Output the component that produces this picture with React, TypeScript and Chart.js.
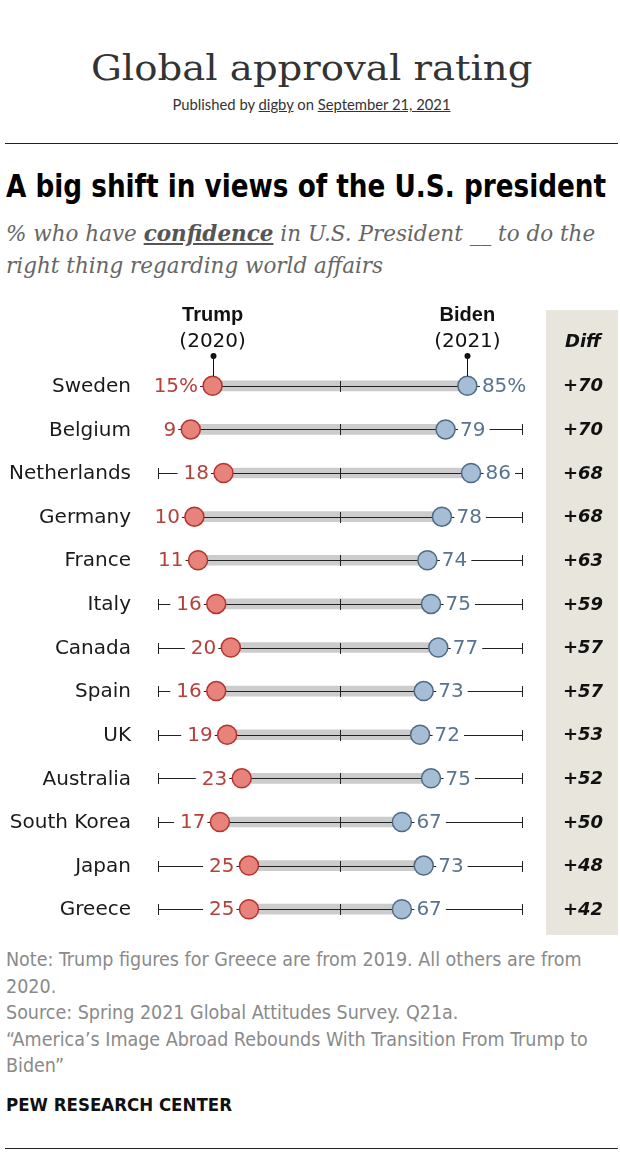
import React, { useEffect, useLayoutEffect, useRef, useState } from "react";
import { Chart, registerables } from "chart.js";

Chart.register(...registerables);

// ---- Data ----
const countries = [
  "Sweden", "Belgium", "Netherlands", "Germany", "France", "Italy", "Canada",
  "Spain", "UK", "Australia", "South Korea", "Japan", "Greece",
];
const trump2020 = [15, 9, 18, 10, 11, 16, 20, 16, 19, 23, 17, 25, 25];
const biden2021 = [85, 79, 86, 78, 74, 75, 77, 73, 72, 75, 67, 73, 67];
const axisTicks = [0, 50, 100];
const seriesNames = ["Trump", "Biden"];
const seriesYears = ["(2020)", "(2021)"];
const diffHeader = "Diff";

// ---- Styles ----
const RED_FILL = "#e8837c";
const RED_BORDER = "#b3342d";
const RED_TEXT = "#b5413a";
const BLUE_FILL = "#a6bed5";
const BLUE_BORDER = "#4e6a86";
const BLUE_TEXT = "#5a7490";
const GREY_BAR = "#cccccc";
const DIFF_BG = "#e8e6dc";
const DOT_R = 9.5;
const LABEL_FONT = '20px "DejaVu Sans"';

const overlayPlugin = {
  id: "overlay",
  afterDatasetDraw(chart: any, args: any) {
    if (args.index !== 2) return; // after grey bar, before dots
    const ctx = chart.ctx;
    const xs = chart.scales.x;
    const ys = chart.scales.y;
    ctx.save();
    ctx.strokeStyle = "#222";
    ctx.lineWidth = 1;
    countries.forEach((_, i) => {
      const y = Math.round(ys.getPixelForValue(i)) + 0.5;
      const x0 = xs.getPixelForValue(axisTicks[0]);
      const x1 = xs.getPixelForValue(axisTicks[axisTicks.length - 1]);
      ctx.beginPath();
      ctx.moveTo(x0, y);
      ctx.lineTo(x1, y);
      ctx.stroke();
      axisTicks.forEach((t) => {
        const x = Math.round(xs.getPixelForValue(t)) + 0.5;
        ctx.beginPath();
        ctx.moveTo(x, y - 5.5);
        ctx.lineTo(x, y + 5.5);
        ctx.stroke();
      });
    });
    ctx.restore();
  },
  afterDatasetsDraw(chart: any) {
    const ctx = chart.ctx;
    const xs = chart.scales.x;
    const ys = chart.scales.y;
    const W = chart.width;
    ctx.save();
    ctx.textBaseline = "middle";
    ctx.font = LABEL_FONT;
    countries.forEach((name, i) => {
      const y = ys.getPixelForValue(i);
      // country label
      ctx.fillStyle = "#1a1a1a";
      ctx.textAlign = "right";
      ctx.fillText(name, 131, y + 1);

      const tx = xs.getPixelForValue(trump2020[i]);
      const bx = xs.getPixelForValue(biden2021[i]);
      const tTxt = i === 0 ? trump2020[i] + "%" : String(trump2020[i]);
      const bTxt = i === 0 ? biden2021[i] + "%" : String(biden2021[i]);
      const tw = ctx.measureText(tTxt).width;
      const bw = ctx.measureText(bTxt).width;
      const tRight = tx - DOT_R - 5;
      ctx.fillStyle = "#fff";
      ctx.fillRect(tRight - tw - 6, y - 11, tw + 8, 22);
      ctx.fillStyle = RED_TEXT;
      ctx.textAlign = "right";
      ctx.fillText(tTxt, tRight, y + 1);
      const bLeft = bx + DOT_R + 5;
      ctx.fillStyle = "#fff";
      ctx.fillRect(bLeft - 2, y - 11, bw + 6, 22);
      ctx.fillStyle = BLUE_TEXT;
      ctx.textAlign = "left";
      ctx.fillText(bTxt, bLeft, y + 1);
    });

    // Column headers with leaders
    const y0 = ys.getPixelForValue(0);
    [trump2020[0], biden2021[0]].forEach((v, k) => {
      const x = xs.getPixelForValue(v);
      ctx.fillStyle = "#111";
      ctx.textAlign = "center";
      ctx.font = 'bold 20px "Liberation Sans"';
      ctx.fillText(seriesNames[k], x, 20);
      ctx.font = '20px "DejaVu Sans"';
      ctx.fillText(seriesYears[k], x, 47);
      ctx.strokeStyle = "#111";
      ctx.lineWidth = 1;
      const lx = Math.round(x) + 0.5;
      ctx.beginPath();
      ctx.moveTo(lx, 60);
      ctx.lineTo(lx, y0 - DOT_R);
      ctx.stroke();
      ctx.beginPath();
      ctx.arc(lx, 61, 3, 0, Math.PI * 2);
      ctx.fill();
    });

    // Diff column
    const dLeft = 546;
    const dRight = W - 2;
    ctx.fillStyle = DIFF_BG;
    ctx.fillRect(dLeft, 15, dRight - dLeft, 625);
    ctx.fillStyle = "#111";
    ctx.textAlign = "center";
    ctx.font = 'bold oblique 18px "DejaVu Sans"';
    const cx = (dLeft + dRight) / 2 + 1;
    ctx.fillText(diffHeader, cx, 47);
    countries.forEach((_, i) => {
      const y = ys.getPixelForValue(i);
      const d = biden2021[i] - trump2020[i];
      ctx.fillText((d > 0 ? "+" : "") + d, cx, y + 1);
    });
    ctx.restore();
  },
};

function DumbbellChart() {
  const ref = useRef<HTMLCanvasElement | null>(null);
  useEffect(() => {
    if (!ref.current) return;
    const chart = new Chart(ref.current, {
      type: "bar",
      data: {
        labels: countries,
        datasets: [
          {
            type: "line",
            label: "Trump",
            data: countries.map((c, i) => ({ x: trump2020[i], y: c })),
            showLine: false,
            pointRadius: DOT_R,
            pointBackgroundColor: RED_FILL,
            pointBorderColor: RED_BORDER,
            pointBorderWidth: 1.5,
          } as any,
          {
            type: "line",
            label: "Biden",
            data: countries.map((c, i) => ({ x: biden2021[i], y: c })),
            showLine: false,
            pointRadius: DOT_R,
            pointBackgroundColor: BLUE_FILL,
            pointBorderColor: BLUE_BORDER,
            pointBorderWidth: 1.5,
          } as any,
          {
            type: "bar",
            label: "Gap",
            data: countries.map((_, i) => [trump2020[i], biden2021[i]]),
            barThickness: 10,
            backgroundColor: GREY_BAR,
            grouped: false,
          } as any,
        ],
      },
      options: {
        indexAxis: "y",
        animation: false,
        responsive: false,
        maintainAspectRatio: false,
        events: [],
        layout: { padding: { left: 0, right: 98, top: 69, bottom: 14 } },
        scales: {
          x: { type: "linear", min: 0, max: 100, display: false },
          y: {
            type: "category",
            grid: { display: false, drawTicks: false },
            border: { display: false },
            ticks: { display: false },
            afterFit: (s: any) => {
              s.width = 158;
            },
          },
        },
        plugins: { legend: { display: false }, tooltip: { enabled: false } },
      } as any,
      plugins: [overlayPlugin],
    });
    return () => chart.destroy();
  }, []);
  return (
    <canvas
      ref={ref}
      width={620}
      height={650}
      style={{ position: "absolute", left: 0, top: 295, width: 620, height: 650 }}
    />
  );
}

function FitText({
  target,
  origin,
  style,
  children,
}: {
  target: number;
  origin: string;
  style: React.CSSProperties;
  children: React.ReactNode;
}) {
  const ref = useRef<HTMLSpanElement | null>(null);
  const [scale, setScale] = useState(1);
  useLayoutEffect(() => {
    if (ref.current) {
      const w = ref.current.offsetWidth;
      if (w > 0) setScale(target / w);
    }
  }, [target]);
  return (
    <span
      ref={ref}
      style={{
        display: "inline-block",
        whiteSpace: "nowrap",
        transformOrigin: origin,
        transform: `scaleX(${scale})`,
        ...style,
      }}
    >
      {children}
    </span>
  );
}

export default function App() {
  const abs = (top: number, extra: React.CSSProperties = {}): React.CSSProperties => ({
    position: "absolute",
    top,
    left: 0,
    whiteSpace: "nowrap",
    ...extra,
  });
  return (
    <div style={{ position: "absolute", left: 0, top: 0, width: 620, height: 1155, background: "#fff", overflow: "hidden" }}>
      <div style={abs(43, { width: 624, textAlign: "center", lineHeight: "50px" })}>
        <FitText
          target={442}
          origin="center center"
          style={{ fontFamily: '"DejaVu Serif", serif', fontSize: 36, color: "#333" }}
        >
          Global approval rating
        </FitText>
      </div>
      <div
        style={abs(94, {
          width: 623,
          textAlign: "center",
          fontFamily: "Lato, sans-serif",
          fontSize: 14.8,
          lineHeight: "20px",
          color: "#333",
        })}
      >
        Published by <span style={{ textDecoration: "underline" }}>digby</span> on{" "}
        <span style={{ textDecoration: "underline" }}>September 21, 2021</span>
      </div>
      <div style={{ position: "absolute", left: 5, top: 143, width: 613, height: 1, background: "#222" }} />
      <div style={abs(166, { left: 6, lineHeight: "40px" })}>
        <FitText
          target={600}
          origin="left center"
          style={{
            fontFamily: '"DejaVu Sans Condensed", "DejaVu Sans", sans-serif',
            fontWeight: 700,
            fontSize: 31.5,
            color: "#000",
          }}
        >
          A big shift in views of the U.S. president
        </FitText>
      </div>
      <div
        style={abs(218, {
          left: 6,
          fontFamily: '"DejaVu Serif", serif',
          fontStyle: "italic",
          fontSize: 21.5,
          lineHeight: "32px",
          color: "#666",
        })}
      >
        % who have{" "}
        <span style={{ fontWeight: 700, textDecoration: "underline", color: "#555" }}>confidence</span> in U.S.
        President __ to do the
        <br />
        right thing regarding world affairs
      </div>
      <DumbbellChart />
      <div
        style={abs(947, {
          left: 6,
          fontFamily: '"DejaVu Sans Condensed", "DejaVu Sans", sans-serif',
          fontSize: 19.5,
          lineHeight: "26.5px",
          color: "#8a8a8a",
        })}
      >
        Note: Trump figures for Greece are from 2019. All others are from
        <br />
        2020.
        <br />
        Source: Spring 2021 Global Attitudes Survey. Q21a.
        <br />
        “America’s Image Abroad Rebounds With Transition From Trump to
        <br />
        Biden”
      </div>
      <div
        style={abs(1093, {
          left: 6,
          fontFamily: '"DejaVu Sans Condensed", "DejaVu Sans", sans-serif',
          fontWeight: 700,
          fontSize: 18.5,
          lineHeight: "24px",
          color: "#111",
        })}
      >
        PEW RESEARCH CENTER
      </div>
      <div style={{ position: "absolute", left: 5, top: 1148, width: 613, height: 1, background: "#222" }} />
    </div>
  );
}
